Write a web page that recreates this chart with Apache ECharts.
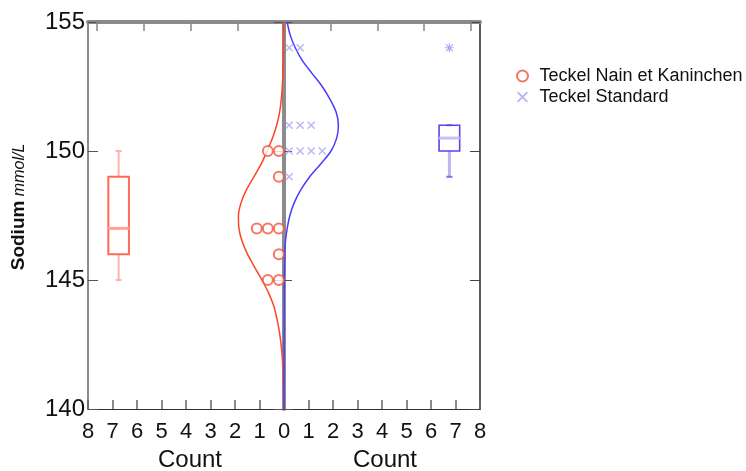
<!DOCTYPE html>
<html><head><meta charset="utf-8">
<script src="https://cdn.jsdelivr.net/npm/echarts@6/dist/echarts.min.js"></script>
<style>html,body{margin:0;padding:0;background:#fff}#c{width:746px;height:471px}</style>
</head><body><div id="c"></div>
<script>
// ---- data ----
const countTickLabels = [8,7,6,5,4,3,2,1,0,1,2,3,4,5,6,7,8];
const sodiumTicks = [140,145,150,155];
const seriesNames = ['Teckel Nain et Kaninchen','Teckel Standard'];
const nainValues = [145,145,146,147,147,147,149,150,150];
const standardValues = [149,150,150,150,150,151,151,151,154,154];
const nainCurveSodium = [140,140.5,141,141.5,142,142.5,143,143.5,144,144.5,145,145.5,146,146.5,147,147.5,148,148.5,149,149.5,150,150.5,151,151.5,152,152.5,153,154,155];
const nainCurveCount  = [0.01,0.015,0.02,0.04,0.07,0.12,0.19,0.29,0.42,0.63,0.90,1.20,1.49,1.71,1.84,1.86,1.75,1.53,1.23,0.93,0.69,0.47,0.30,0.18,0.11,0.07,0.04,0.02,0.01];
const standardCurveSodium = [140,145,145.5,146,146.5,147,147.5,148,148.5,149,149.5,150,150.5,151,151.5,152,152.5,153,153.5,154,154.5,155];
const standardCurveCount  = [0.0,0.01,0.02,0.03,0.06,0.13,0.24,0.42,0.69,1.05,1.50,1.92,2.15,2.22,2.13,1.88,1.56,1.15,0.75,0.46,0.25,0.13];
// box stats: min, q1, median, q3, max
const nainBox = [145,146,147,149,150];
const standardBox = [149,150,150.5,151,151];
const standardOutliers = [154];

// ---- layout helpers ----
const BOX_POS = 6.75, DOT_START = 0.21, DOT_STEP = 0.45;
function dotStack(values, sign){
  const seen = {};
  return values.map(v => { const k = seen[v] || 0; seen[v] = k + 1; return [sign*(DOT_START + DOT_STEP*k), v]; });
}
function curve(sod, cnt, sign){ return sod.map((s,i)=>[sign*cnt[i], s]); }

const FONT = '"Liberation Sans", Arial, sans-serif';
const RED = '#ff4426', RED_BOX = '#ff6a55', RED_LIGHT = '#ffb3a8';
const BLUE = '#4a3cff', BLUE_BOX = '#5646f0', BLUE_LIGHT = '#bdb5f4', LAV = '#a9a0f5';

function boxRenderer(st){
  return function(params, api){
    const x = api.value(0);
    const mn = api.coord([x, api.value(1)]), q1 = api.coord([x, api.value(2)]),
          md = api.coord([x, api.value(3)]), q3 = api.coord([x, api.value(4)]),
          mx = api.coord([x, api.value(5)]);
    const cx = mn[0], hw = 10.3, cap = 3;
    const ch = [];
    ch.push({type:'line', shape:{x1:cx,y1:q3[1],x2:cx,y2:mx[1]}, style:{stroke:st.whisker,lineWidth:st.ww}});
    ch.push({type:'line', shape:{x1:cx,y1:q1[1],x2:cx,y2:mn[1]}, style:{stroke:st.whisker,lineWidth:st.ww}});
    ch.push({type:'line', shape:{x1:cx-cap,y1:mx[1],x2:cx+cap,y2:mx[1]}, style:{stroke:st.cap,lineWidth:2}});
    ch.push({type:'line', shape:{x1:cx-cap,y1:mn[1],x2:cx+cap,y2:mn[1]}, style:{stroke:st.cap,lineWidth:2}});
    ch.push({type:'rect', shape:{x:cx-hw,y:q3[1],width:2*hw,height:q1[1]-q3[1]}, style:{fill:'none',stroke:st.box,lineWidth:st.bw}});
    ch.push({type:'line', shape:{x1:cx-hw,y1:md[1],x2:cx+hw,y2:md[1]}, style:{stroke:st.median,lineWidth:3}});
    return {type:'group', children:ch};
  };
}

const crossPath = 'path://M0,1.2L1.2,0L10,8.8L8.8,10Z M8.8,0L10,1.2L1.2,10L0,8.8Z';
const starPath = 'path://M4.4,0H5.6V4.4H10V5.6H5.6V10H4.4V5.6H0V4.4H4.4Z M1.5,0.7L5,4.2L8.5,0.7L9.3,1.5L5.8,5L9.3,8.5L8.5,9.3L5,5.8L1.5,9.3L0.7,8.5L4.2,5L0.7,1.5Z';

const chart = echarts.init(document.getElementById('c'), null, {renderer:'canvas'});
const gridL = 88, gridR = 480;
chart.setOption({
  animation:false,
  backgroundColor:'#fff',
  grid:{left:gridL, right:746-gridR, top:22, bottom:471-409, containLabel:false},
  xAxis:[{
    type:'value', min:-8, max:8, interval:1, position:'bottom',
    axisLine:{onZero:false, lineStyle:{color:'#333', width:1}},
    axisTick:{inside:true, length:9, lineStyle:{color:'#666', width:1.5}},
    axisLabel:{margin:12, fontSize:22, color:'#111', fontFamily:FONT, formatter:v=>String(countTickLabels[Math.round(v)+8])},
    splitLine:{show:false}
  },{
    type:'value', min:-4.193, max:4.193, position:'top',
    axisLine:{onZero:false, lineStyle:{color:'#8a8a8a', width:4}},
    axisTick:{inside:true, length:9, customValues:[-4,-3,-2,-1,0,1,2,3,4], lineStyle:{color:'#888', width:1.5}},
    axisLabel:{show:false}, splitLine:{show:false}
  }],
  yAxis:[{
    type:'value', min:sodiumTicks[0], max:sodiumTicks[sodiumTicks.length-1], interval:5, position:'left',
    axisLine:{show:true, onZero:false, lineStyle:{color:'#666', width:1.5}},
    axisTick:{show:true, inside:true, length:10, lineStyle:{color:'#555', width:1}},
    axisLabel:{margin:3, fontSize:24, color:'#111', fontFamily:FONT},
    splitLine:{show:false},
    name:'{b|Sodium}{s| }{i|mmol/L}', nameLocation:'middle', nameRotate:90, nameGap:60,
    nameTextStyle:{fontFamily:FONT, color:'#111', padding:[0,0,0,17], rich:{
      b:{fontSize:19, fontWeight:'bold', fontFamily:FONT, color:'#111', verticalAlign:'bottom'},
      s:{fontSize:16, fontFamily:FONT, verticalAlign:'bottom'},
      i:{fontSize:16, fontStyle:'italic', fontFamily:FONT, color:'#111', verticalAlign:'bottom'}}}
  },{
    type:'value', min:140, max:155, interval:5, position:'right',
    axisLine:{show:true, onZero:false, lineStyle:{color:'#5a5a5a', width:2}},
    axisTick:{show:true, inside:true, length:10, lineStyle:{color:'#444', width:1}},
    axisLabel:{show:false}, splitLine:{show:false}
  },{
    type:'value', min:140, max:155, interval:5, position:'left', offset:-196,
    axisLine:{show:true, onZero:false, lineStyle:{color:'#8c8c8c', width:4}},
    axisTick:{show:true, inside:false, length:10, lineStyle:{color:'#555', width:1}},
    axisLabel:{show:false}, splitLine:{show:false}
  },{
    type:'value', min:140, max:155, interval:5, position:'right', offset:-196,
    axisLine:{show:false, onZero:false},
    axisTick:{show:true, inside:false, length:8, lineStyle:{color:'#555', width:1}},
    axisLabel:{show:false}, splitLine:{show:false}
  }],
  legend:{
    orient:'vertical', left:511, top:61, itemWidth:24, itemHeight:11, itemGap:1,
    textStyle:{fontSize:18, fontFamily:FONT, color:'#111', lineHeight:20},
    data:seriesNames
  },
  graphic:[
    {type:'text', x:190, y:460, style:{text:'Count', font:'24px '+FONT, fill:'#111', align:'center', verticalAlign:'middle'}},
    {type:'text', x:385, y:460, style:{text:'Count', font:'24px '+FONT, fill:'#111', align:'center', verticalAlign:'middle'}}
  ],
  series:[
    {type:'line', name:'nainCurve', data:curve(nainCurveSodium, nainCurveCount, -1), smooth:0.3, showSymbol:false, symbol:'none',
     lineStyle:{color:RED, width:1.5}, z:3, silent:true},
    {type:'line', name:'standardCurve', data:curve(standardCurveSodium, standardCurveCount, 1), smooth:0.3, showSymbol:false, symbol:'none',
     lineStyle:{color:BLUE, width:1.5}, z:3, silent:true},
    {type:'scatter', name:seriesNames[0], data:dotStack(nainValues,-1), symbol:'emptyCircle', symbolSize:10,
     itemStyle:{color:'#f2553f', borderColor:'#f2553f', borderWidth:1.3}, z:4},
    {type:'scatter', name:seriesNames[1], data:dotStack(standardValues,1), symbol:crossPath, symbolSize:8,
     itemStyle:{color:LAV}, z:4},
    {type:'custom', name:'nainBox', renderItem:boxRenderer({box:RED_BOX, whisker:RED_LIGHT, cap:RED_LIGHT, median:'#ffa595', bw:2, ww:2}),
     data:[[-BOX_POS].concat(nainBox)], z:4, silent:true},
    {type:'custom', name:'standardBox', renderItem:boxRenderer({box:BLUE_BOX, whisker:BLUE_LIGHT, cap:'#7d6ff2', median:'#c8c1f2', bw:1.6, ww:3}),
     data:[[BOX_POS].concat(standardBox)], z:4, silent:true},
    {type:'scatter', name:'standardOutliers', data:standardOutliers.map(v=>[BOX_POS, v]), symbol:starPath, symbolSize:9,
     itemStyle:{color:'#9a8ef5'}, z:4, silent:true}
  ]
});
</script></body></html>
